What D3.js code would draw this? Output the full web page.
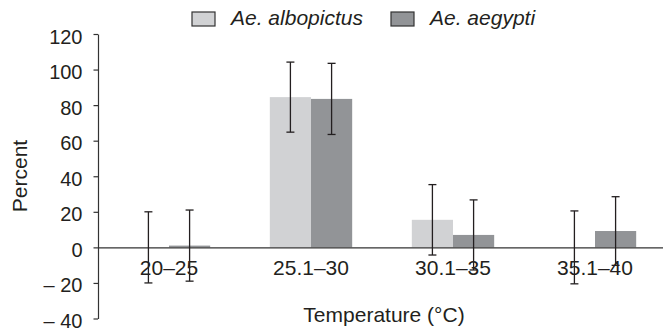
<!DOCTYPE html>
<html>
<head>
<meta charset="utf-8">
<script src="https://cdn.jsdelivr.net/npm/d3@7"></script>
<style>
  body { margin: 0; background: #fff; }
  text { font-family: "Liberation Sans", Arial, sans-serif; fill: #231f20; }
</style>
</head>
<body>
<div id="chart"></div>
<script>
// data
var categories = ["20–25", "25.1–30", "30.1–35", "35.1–40"];
var seriesNames = ["Ae. albopictus", "Ae. aegypti"];
var albopictus = [0, 84.5, 15.5, 0];
var albopictusErr = [20, 19.7, 19.8, 20.5];
var aegypti = [1, 83.5, 7, 9.2];
var aegyptiErr = [20, 20, 19.7, 19.3];
var yTicks = [-40, -20, 0, 20, 40, 60, 80, 100, 120];

var colors = ["#d1d2d4", "#929497"];

var width = 663, height = 331;

var svg = d3.select("#chart")
  .append("svg")
    .attr("width", width)
    .attr("height", height);

var yScale = d3.scaleLinear()
    .domain([-40, 120])
    .range([318.5, 34]);

var xScale = d3.scaleBand()
    .domain(categories)
    .range([98, 666])
    .paddingInner(0.42)
    .paddingOuter(0.21);

var xSub = d3.scaleBand()
    .domain(seriesNames)
    .range([0, xScale.bandwidth()]);

// build rows for each bar
var rows = [];
categories.forEach(function(c, i){
    rows.push({cat: c, series: seriesNames[0], value: albopictus[i], err: albopictusErr[i], color: colors[0]});
    rows.push({cat: c, series: seriesNames[1], value: aegypti[i], err: aegyptiErr[i], color: colors[1]});
});

// bars
svg.selectAll(".bar")
    .data(rows)
    .enter().append("rect")
    .attr("class", "bar")
    .attr("x", function(d){ return xScale(d.cat) + xSub(d.series); })
    .attr("y", function(d){ return yScale(Math.max(0, d.value)); })
    .attr("width", xSub.bandwidth())
    .attr("height", function(d){ return Math.abs(yScale(d.value) - yScale(0)); })
    .style("fill", function(d){ return d.color; });

// y axis
var yAxis = d3.axisLeft(yScale)
    .tickValues(yTicks)
    .tickSize(4.5)
    .tickSizeOuter(0)
    .tickPadding(11)
    .tickFormat(function(d){ return d < 0 ? "– " + Math.abs(d) : d; });

var gy = svg.append("g")
    .attr("transform", "translate(98,0)")
    .call(yAxis);
gy.select(".domain").attr("stroke", "#333").attr("stroke-width", 1.2);
gy.selectAll(".tick line").attr("stroke", "#333").attr("stroke-width", 1.2);
gy.selectAll(".tick text")
    .attr("dy", "0.45em")
    .style("font-size", "20px")
    .style("font-family", "'Liberation Sans', Arial, sans-serif")
    .attr("fill", "#231f20");

// x axis along zero
var xAxis = d3.axisBottom(xScale)
    .tickSize(0)
    .tickSizeOuter(0)
    .tickPadding(12.7);

var gx = svg.append("g")
    .attr("transform", "translate(0," + yScale(0) + ")")
    .call(xAxis);
gx.select(".domain").attr("stroke", "#333").attr("stroke-width", 1.2);
gx.selectAll(".tick text")
    .style("font-size", "21px")
    .style("font-family", "'Liberation Sans', Arial, sans-serif")
    .attr("fill", "#231f20");

// error bars
var capW = 8;
var eb = svg.selectAll(".err")
    .data(rows)
    .enter().append("g")
    .attr("class", "err")
    .attr("transform", function(d){
        return "translate(" + (xScale(d.cat) + xSub(d.series) + xSub.bandwidth() / 2) + ",0)";
    });
eb.append("line")
    .attr("y1", function(d){ return yScale(d.value + d.err); })
    .attr("y2", function(d){ return yScale(d.value - d.err); })
    .attr("stroke", "#231f20").attr("stroke-width", 1.3);
eb.append("line")
    .attr("x1", -capW / 2).attr("x2", capW / 2)
    .attr("y1", function(d){ return yScale(d.value + d.err); })
    .attr("y2", function(d){ return yScale(d.value + d.err); })
    .attr("stroke", "#231f20").attr("stroke-width", 1.3);
eb.append("line")
    .attr("x1", -capW / 2).attr("x2", capW / 2)
    .attr("y1", function(d){ return yScale(d.value - d.err); })
    .attr("y2", function(d){ return yScale(d.value - d.err); })
    .attr("stroke", "#231f20").attr("stroke-width", 1.3);

// axis titles
svg.append("text")
    .attr("transform", "rotate(-90)")
    .attr("x", -176)
    .attr("y", 27)
    .attr("text-anchor", "middle")
    .style("font-size", "21px")
    .text("Percent");

svg.append("text")
    .attr("x", 384)
    .attr("y", 322)
    .attr("text-anchor", "middle")
    .style("font-size", "21px")
    .text("Temperature (°C)");

// legend
var legendX = [192, 391];
var legend = svg.selectAll(".legend")
    .data(seriesNames)
    .enter().append("g")
    .attr("class", "legend")
    .attr("transform", function(d, i){ return "translate(" + legendX[i] + ",12)"; });
legend.append("rect")
    .attr("width", 23)
    .attr("height", 14)
    .style("fill", function(d, i){ return colors[i]; })
    .attr("stroke", "#333")
    .attr("stroke-width", 1.2);
legend.append("text")
    .attr("x", 39)
    .attr("y", 13)
    .style("font-size", "21px")
    .style("font-style", "italic")
    .text(function(d){ return d; });
</script>
</body>
</html>
